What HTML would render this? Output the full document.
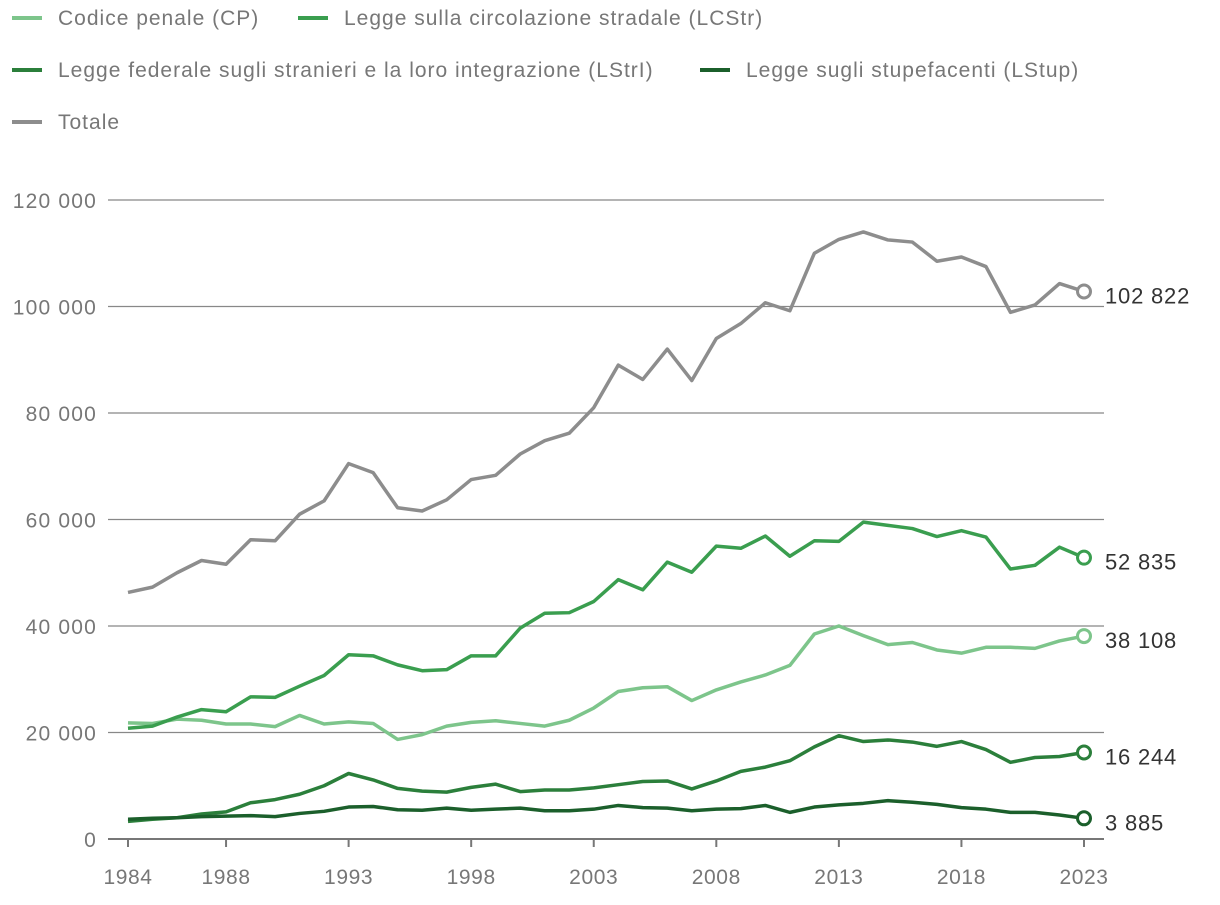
<!DOCTYPE html>
<html><head><meta charset="utf-8"><style>
body{margin:0;background:#fff;font-family:"Liberation Sans",Arial,sans-serif;}
svg text{font-family:"Liberation Sans",Arial,sans-serif;}
</style></head><body>
<svg id="chart" width="1220" height="900" xmlns="http://www.w3.org/2000/svg"></svg>
<script>
const years = [];
for (let y = 1984; y <= 2023; y++) years.push(y);
const cpValues = [21800,21700,22500,22300,21600,21600,21100,23200,21600,22000,21700,18700,19600,21200,21900,22200,21700,21200,22300,24600,27700,28400,28600,26000,28000,29500,30800,32600,38500,40000,38200,36500,36900,35500,34900,36000,36000,35800,37200,38108];
const lcstrValues = [20800,21200,22900,24300,23900,26700,26600,28700,30700,34600,34400,32700,31600,31800,34400,34400,39600,42400,42500,44600,48700,46800,52000,50100,55000,54600,56900,53100,56000,55900,59500,58900,58300,56800,57900,56700,50700,51400,54800,52835];
const lstriValues = [3300,3700,4000,4700,5100,6800,7400,8400,10000,12300,11100,9500,9000,8800,9700,10300,8900,9200,9200,9600,10200,10800,10900,9400,10900,12700,13500,14700,17300,19400,18300,18600,18200,17400,18300,16800,14400,15300,15500,16244];
const lstupValues = [3700,3900,4000,4200,4300,4400,4200,4800,5200,6000,6100,5500,5400,5800,5400,5600,5800,5300,5300,5600,6300,5900,5800,5300,5600,5700,6300,5000,6000,6400,6700,7200,6900,6500,5900,5600,5000,5000,4500,3885];
const totalValues = [46300,47300,50000,52300,51600,56200,56000,61000,63500,70500,68800,62200,61600,63700,67500,68300,72300,74800,76200,81000,89000,86300,92000,86100,94000,96800,100700,99200,110000,112600,114000,112500,112100,108500,109300,107500,98900,100300,104300,102822];
const seriesNames = ["Codice penale (CP)","Legge sulla circolazione stradale (LCStr)","Legge federale sugli stranieri e la loro integrazione (LStrI)","Legge sugli stupefacenti (LStup)","Totale"];
const yTicks = [0,20000,40000,60000,80000,100000,120000];
const xTicks = [1984,1988,1993,1998,2003,2008,2013,2018,2023];

const NS="http://www.w3.org/2000/svg";
const svg=document.getElementById('chart');
function mk(tag,attrs,parent){const e=document.createElementNS(NS,tag);for(const k in attrs)e.setAttribute(k,attrs[k]);(parent||svg).appendChild(e);return e;}
const X=y=>128+(y-1984)*(1084-128)/39;
const Y=v=>839-v*(839-200)/120000;
const fmt=v=>String(Math.round(v)).replace(/\B(?=(\d{3})+(?!\d))/g,' ');

const colors=["#7dc58b","#3a9e4f","#2b7f3b","#1b5f2b","#8d8d8d"];
const data=[cpValues,lcstrValues,lstriValues,lstupValues,totalValues];

// legend
const legPos=[[12,18],[298,18],[12,70],[700,70],[12,122]];
seriesNames.forEach((n,i)=>{
  const g=mk('g',{});
  
  
  const [lx,ly]=legPos[i];
  mk('line',{x1:lx,x2:lx+30,y1:ly,y2:ly,stroke:colors[i],'stroke-width':4},g);
  const t=mk('text',{x:lx+46,y:ly+7,'font-size':21,'letter-spacing':1,fill:'#777'},g);t.textContent=n;
});

// grid
yTicks.forEach(v=>{
  const l=mk('line',{x1:108,x2:1104,y1:Y(v),y2:Y(v),stroke:v===0?'#777':'#888','stroke-width':v===0?2:1.3});
  
  
  const t=mk('text',{x:97,y:Y(v)+8,'text-anchor':'end','font-size':21,'letter-spacing':1.2,fill:'#777'});
  
  
  t.textContent=fmt(v);
});
xTicks.forEach(yr=>{
  mk('line',{x1:X(yr),x2:X(yr),y1:839,y2:847,stroke:'#777','stroke-width':2});
  const t=mk('text',{x:X(yr),y:884,'text-anchor':'middle','font-size':21,'letter-spacing':0.6,fill:'#777'});
  
  
  t.textContent=yr;
});

// series
data.forEach((vals,i)=>{
  const p=mk('polyline',{points:vals.map((v,j)=>X(years[j])+','+Y(v)).join(' '),fill:'none',stroke:colors[i],'stroke-width':3.5,'stroke-linejoin':'round'});
  
  
});
// end markers + labels
[4,1,0,2,3].forEach(i=>{
  const vals=data[i];const last=vals[vals.length-1];
  const c=mk('circle',{cx:X(2023),cy:Y(last),r:6.5,fill:'#fff',stroke:colors[i],'stroke-width':3});
  
  
  const t=mk('text',{x:1105,y:Y(last)+12,'font-size':22,'letter-spacing':0.8,fill:'#333'});
  
  
  t.textContent=fmt(last);
});
</script>
</body></html>
